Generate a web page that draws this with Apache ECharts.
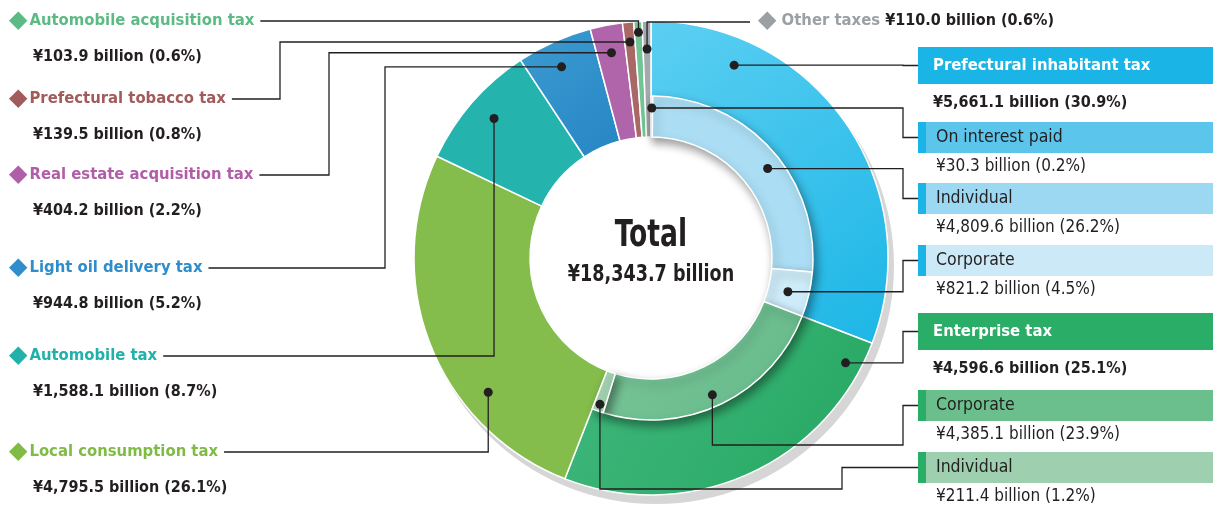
<!DOCTYPE html>
<html>
<head>
<meta charset="utf-8">
<script src="https://cdn.jsdelivr.net/npm/echarts@6/dist/echarts.min.js"></script>
<style>
  html, body { margin: 0; padding: 0; background: #fff; }
  #chart { width: 1213px; height: 508px; }
</style>
</head>
<body>
<div id="chart"></div>
<script>
// outer ring, clockwise from 12 o'clock
const taxNames = ['Prefectural inhabitant tax', 'Enterprise tax', 'Local consumption tax', 'Automobile tax',
  'Light oil delivery tax', 'Real estate acquisition tax', 'Prefectural tobacco tax', 'Automobile acquisition tax', 'Other taxes'];
const taxValues = [5661.1, 4596.6, 4795.5, 1588.1, 944.8, 404.2, 139.5, 103.9, 110.0];
const taxShares = [30.9, 25.1, 26.1, 8.7, 5.2, 2.2, 0.8, 0.6, 0.6];

// inner ring: breakdown of prefectural inhabitant tax and enterprise tax
const subNames = ['On interest paid', 'Individual', 'Corporate', 'Corporate', 'Individual'];
const subValues = [30.3, 4809.6, 821.2, 4385.1, 211.4];
const subShares = [0.2, 26.2, 4.5, 23.9, 1.2];

const totalValue = 18343.7;

const CX = 651, CY = 258, R_OUT = 237, R_HOLE = 121, R_MID = 162;
const FONT = "'Liberation Sans Narrow', 'DejaVu Sans Condensed', sans-serif";
const INK = '#231f20';
const NAME_SIZE = 16.5, VAL_SIZE = 16, SUB_SIZE = 17.5, SUBVAL_SIZE = 17, DIA_SIZE = 24;
const CLEAR = 'rgba(0,0,0,0)';

function grad(a, b) {
  return { type: 'linear', x: 0, y: 0, x2: 1, y2: 1, colorStops: [{ offset: 0, color: a }, { offset: 1, color: b }] };
}

const taxColors = [grad('#5ccff2', '#1cb6e6'), grad('#42b97e', '#25a761'), '#84bd4b', '#25b4ad',
  grad('#3c9bd1', '#2686c4'), '#b064a9', '#a86866', '#72c495', '#a4a9ad'];
const nameColors = ['#1ab4e6', '#2aae67', '#7fbb45', '#22b1aa', '#2e8dca', '#b05ea7', '#a15b5b', '#5cba84', '#9ba0a5'];
const subColors = ['#9cc6d8', '#abdef4', '#cdebf8', grad('#78c598', '#66b98a'), '#a7d7b6'];
const subBoxColors = ['#5bc5ec', '#9dd8f2', '#cbe9f7', '#6abf8c', '#9ecfae'];
const subStripColors = ['#1ab4e6', '#1ab4e6', '#1ab4e6', '#2aae67', '#2aae67'];

// label placement and leader routes (t = position along slice, r = dot radius)
const taxLabelLayout = [
  { side: 'box', y: 47, h: 37, t: 0.21, r: 210, ex: 903 },
  { side: 'box', y: 313, h: 37, t: 0.08, r: 221, ex: 903 },
  { side: 'left', y: 434, t: 0.31, r: 211 },
  { side: 'left', y: 338, t: 0.52, r: 210 },
  { side: 'left', y: 250, t: 0.45, r: 211, ex: 385 },
  { side: 'left', y: 157, t: 0.5, r: 209, ex: 329 },
  { side: 'left', y: 81, t: 0.5, r: 217, ex: 280 },
  { side: 'left', y: 3, t: 0.5, r: 226 },
  { side: 'top', x: 758, y: 9, t: 0.5, r: 209 }
];
const subLabelLayout = [
  { y: 122, t: 0.5, r: 150, ex: 903 },
  { y: 183, t: 0.55, r: 147, ex: 903 },
  { y: 245, t: 0.55, r: 141, ex: 903 },
  { y: 390, t: 0.52, r: 150, ex: 903, vy: 445 },
  { y: 452, t: 0.5, r: 155, ex: 842, vy: 489 }
];

const fillerValue = totalValue - subValues.reduce((a, b) => a + b, 0);
const innerValues = subValues.concat([fillerValue]);

function fmtVal(v, s) {
  return '¥' + v.toLocaleString('en-US', { minimumFractionDigits: 1, maximumFractionDigits: 1 }) +
    ' billion (' + s.toFixed(1) + '%)';
}

function dotPos(values, idx, t, r) {
  const sum = values.reduce((a, b) => a + b, 0);
  let before = 0;
  for (let i = 0; i < idx; i++) before += values[i];
  const a = (before + t * values[idx]) / sum * 2 * Math.PI;
  return [CX + r * Math.sin(a), CY - r * Math.cos(a)];
}

const ctx = document.createElement('canvas').getContext('2d');
function textW(str, font) { ctx.font = font; return ctx.measureText(str).width; }

const rich = {
  v: { fontFamily: FONT, fontWeight: 'bold', fontSize: VAL_SIZE, color: INK, lineHeight: 36, padding: [0, 0, 0, 24] },
  mv: { fontFamily: FONT, fontWeight: 'bold', fontSize: VAL_SIZE, color: INK, lineHeight: 38, padding: [0, 0, 0, 15] },
  od: { fontFamily: 'DejaVu Sans', fontSize: DIA_SIZE, color: nameColors[8], lineHeight: 24 },
  on: { fontFamily: FONT, fontWeight: 'bold', fontSize: NAME_SIZE, color: nameColors[8], lineHeight: 24 },
  ov: { fontFamily: FONT, fontWeight: 'bold', fontSize: VAL_SIZE, color: INK, lineHeight: 24 },
  sv: { fontFamily: FONT, fontSize: SUBVAL_SIZE, color: INK, lineHeight: 28, padding: [0, 0, 0, 18] }
};
taxNames.forEach((n, i) => {
  rich['d' + i] = { fontFamily: 'DejaVu Sans', fontSize: DIA_SIZE, color: nameColors[i], lineHeight: 36 };
  rich['n' + i] = { fontFamily: FONT, fontWeight: 'bold', fontSize: NAME_SIZE, color: nameColors[i], lineHeight: 36, padding: [0, 0, 0, 2] };
  rich['mb' + i] = { fontFamily: FONT, fontWeight: 'bold', fontSize: NAME_SIZE, color: '#fff', backgroundColor: nameColors[i],
    width: 300, height: 37, lineHeight: 37, padding: [0, 0, 0, 15] };
});
subNames.forEach((n, i) => {
  rich['s' + i] = { backgroundColor: subStripColors[i], width: 8, height: 31, lineHeight: 31 };
  rich['b' + i] = { fontFamily: FONT, fontSize: SUB_SIZE, color: INK, backgroundColor: subBoxColors[i],
    width: 300, height: 31, lineHeight: 31, padding: [0, 0, 0, 10] };
});

function taxLayout(p) {
  const i = p.dataIndex, lc = taxLabelLayout[i];
  if (!lc) return {};
  const d = dotPos(taxValues, i, lc.t, lc.r);
  if (lc.side === 'box') {
    const by = lc.y + lc.h / 2;
    return { x: 918, y: lc.y, align: 'left', verticalAlign: 'top',
      labelLinePoints: [d, [lc.ex, d[1]], [lc.ex, by], [918, by]] };
  }
  if (lc.side === 'top') {
    const ay = lc.y + 13;
    return { x: lc.x, y: lc.y, align: 'left', verticalAlign: 'top',
      labelLinePoints: [[lc.x - 8, ay], [d[0], ay], d] };
  }
  const x0 = 9, ay = lc.y + 18;
  const ax = x0 + textW('◆', DIA_SIZE + "px 'DejaVu Sans'") + 2 + textW(taxNames[i], 'bold ' + NAME_SIZE + 'px ' + FONT) + 6;
  const ex = lc.ex != null ? lc.ex : d[0];
  return { x: x0, y: lc.y, align: 'left', verticalAlign: 'top',
    labelLinePoints: [[ax, ay], [ex, ay], [ex, d[1]], d] };
}

function subLayout(p) {
  const i = p.dataIndex, lc = subLabelLayout[i];
  if (!lc) return {};
  const d = dotPos(innerValues, i, lc.t, lc.r);
  const by = lc.y + 15.5;
  const pts = lc.vy != null
    ? [d, [d[0], lc.vy], [lc.ex, lc.vy], [lc.ex, by], [918, by]]
    : [d, [lc.ex, d[1]], [lc.ex, by], [918, by]];
  return { x: 918, y: lc.y, align: 'left', verticalAlign: 'top', labelLinePoints: pts };
}

const lineStyle = { color: INK, width: 1.3 };
const noLabel = { label: { show: false }, labelLine: { show: false } };

const taxLabel = {
  show: true, position: 'outside', rich: rich,
  formatter: function (p) {
    const i = p.dataIndex, lc = taxLabelLayout[i];
    if (!lc) return '';
    const val = fmtVal(taxValues[i], taxShares[i]);
    if (lc.side === 'box') return '{mb' + i + '|' + taxNames[i] + '}\n{mv|' + val + '}';
    if (lc.side === 'top') return '{od|◆}{on| ' + taxNames[i] + ' }{ov|' + val + '}';
    return '{d' + i + '|◆}{n' + i + '|' + taxNames[i] + '}\n{v|' + val + '}';
  }
};
const subLabel = {
  show: true, position: 'outside', rich: rich,
  formatter: function (p) {
    const i = p.dataIndex;
    if (i >= subNames.length) return '';
    return '{s' + i + '| }{b' + i + '|' + subNames[i] + '}\n{sv|' + fmtVal(subValues[i], subShares[i]) + '}';
  }
};

const ringBase = { type: 'pie', center: [CX, CY], startAngle: 90, clockwise: true, avoidLabelOverlap: false, emphasis: { disabled: true } };

// leader dots
const dotEls = [];
taxNames.forEach((n, i) => {
  const lc = taxLabelLayout[i];
  dotEls.push(dotPos(taxValues, i, lc.t, lc.r));
});
subLabelLayout.forEach((lc, i) => dotEls.push(dotPos(innerValues, i, lc.t, lc.r)));

const chart = echarts.init(document.getElementById('chart'));

chart.setOption({
  animation: false,
  graphic: dotEls.map(d => ({
    type: 'circle', z: 100, shape: { cx: d[0], cy: d[1], r: 4.5 }, style: { fill: INK }
  })).concat([
    { type: 'text', z: 100, x: CX, y: 236, scaleX: 0.8,
      style: { text: 'Total', fill: INK, font: 'bold 37px ' + FONT, textAlign: 'center', textVerticalAlign: 'middle' } },
    { type: 'text', z: 100, x: CX, y: 275, scaleX: 0.85,
      style: { text: '¥' + totalValue.toLocaleString('en-US', { minimumFractionDigits: 1 }) + ' billion',
        fill: INK, font: 'bold 23px ' + FONT, textAlign: 'center', textVerticalAlign: 'middle' } }
  ]),
  series: [
    Object.assign({}, noLabel, {
      // grey offset shadow under the ring
      type: 'pie', silent: true, z: 1,
      center: [CX + 5, CY + 8], radius: [R_OUT - 40, R_OUT + 1],
      itemStyle: { color: '#d6d6d6' },
      data: [{ value: 1, name: 'shadow' }]
    }),
    Object.assign({}, ringBase, noLabel, {
      z: 2, radius: [R_HOLE, R_OUT],
      itemStyle: { borderColor: '#fff', borderWidth: 1.5 },
      data: taxNames.map((n, i) => ({ name: n, value: taxValues[i], itemStyle: { color: taxColors[i] } }))
    }),
    Object.assign({}, ringBase, noLabel, {
      z: 3, radius: [R_HOLE, R_MID],
      itemStyle: {
        borderColor: '#fff', borderWidth: 1.5,
        shadowBlur: 10, shadowOffsetX: 3, shadowOffsetY: 5, shadowColor: 'rgba(0,0,0,0.4)'
      },
      data: subNames.map((n, i) => ({ name: n, value: subValues[i], itemStyle: { color: subColors[i] } }))
        .concat([{ name: 'rest', value: fillerValue,
          itemStyle: { color: CLEAR, borderWidth: 0, shadowColor: CLEAR, shadowBlur: 0 } }])
    }),
    // label layers drawn above both rings so leader lines cross the slices
    Object.assign({}, ringBase, {
      z: 4, silent: true, radius: [R_HOLE, R_OUT],
      itemStyle: { color: CLEAR, borderWidth: 0 },
      label: taxLabel,
      labelLine: { show: true, length: 10, length2: 10, lineStyle: lineStyle },
      labelLayout: taxLayout,
      data: taxNames.map((n, i) => ({ name: n, value: taxValues[i] }))
    }),
    Object.assign({}, ringBase, {
      z: 4, silent: true, radius: [R_HOLE, R_MID],
      itemStyle: { color: CLEAR, borderWidth: 0 },
      label: subLabel,
      labelLine: { show: true, length: 10, length2: 10, lineStyle: lineStyle },
      labelLayout: subLayout,
      data: subNames.map((n, i) => ({ name: n, value: subValues[i] }))
        .concat([Object.assign({ name: 'rest', value: fillerValue }, noLabel)])
    })
  ]
});
</script>
</body>
</html>
